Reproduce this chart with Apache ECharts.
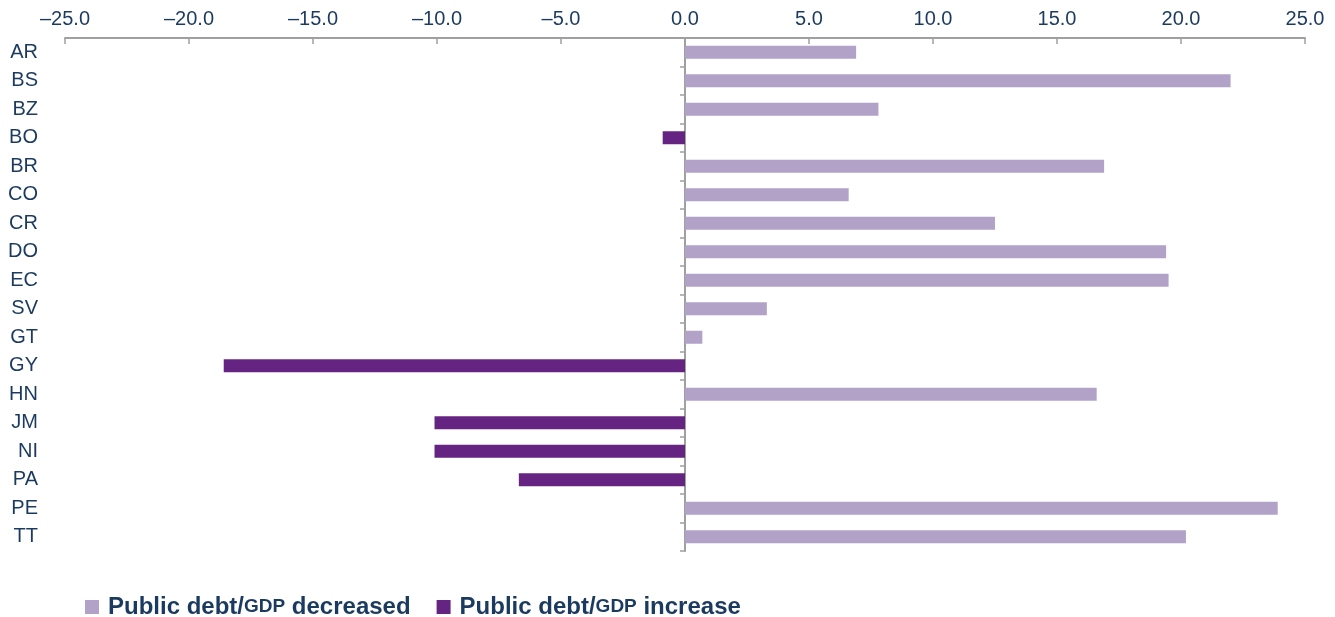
<!DOCTYPE html>
<html><head><meta charset="utf-8">
<script src="https://cdn.jsdelivr.net/npm/echarts@6/dist/echarts.min.js"></script>
<style>html,body{margin:0;padding:0;background:#fff}#c{width:1335px;height:617px}</style>
</head><body><div id="c"></div>
<script>
const categories = ['AR','BS','BZ','BO','BR','CO','CR','DO','EC','SV','GT','GY','HN','JM','NI','PA','PE','TT'];
const decreased = [6.9, 22.0, 7.8, null, 16.9, 6.6, 12.5, 19.4, 19.5, 3.3, 0.7, null, 16.6, null, null, null, 23.9, 20.2];
const increase  = [null, null, null, -0.9, null, null, null, null, null, null, null, -18.6, null, -10.1, -10.1, -6.7, null, null];
const seriesNames = ['Public debt/{s|GDP} decreased', 'Public debt/{s|GDP} increase'];
const xMin = -25, xMax = 25, xStep = 5;

const navy = '#1b3a5f';
const ff = 'Liberation Sans, Arial, sans-serif';
const chart = echarts.init(document.getElementById('c'));
chart.setOption({
  animation: false,
  grid: { left: 65, right: 30, top: 38, bottom: 66, containLabel: false },
  xAxis: {
    type: 'value', position: 'top', min: xMin, max: xMax, interval: xStep,
    axisLine: { show: true, onZero: false, lineStyle: { color: '#a0a0a0', width: 2 } },
    axisTick: { show: true, inside: true, length: 6, lineStyle: { color: '#a0a0a0', width: 1.5 } },
    splitLine: { show: false },
    axisLabel: { color: navy, fontSize: 20, fontFamily: ff, margin: 9,
      formatter: v => (v < 0 ? '\u2013' : '') + Math.abs(v).toFixed(1) }
  },
  yAxis: [{
    type: 'category', data: categories, inverse: true, position: 'left',
    axisLine: { show: false, onZero: false }, axisTick: { show: false },
    axisLabel: { color: navy, fontSize: 20, fontFamily: ff, margin: 27 }
  }, {
    type: 'category', data: categories, inverse: true, position: 'right',
    axisLine: { show: true, onZero: true, lineStyle: { color: '#a0a0a0', width: 2 } },
    axisTick: { show: true, inside: true, length: 5, lineStyle: { color: '#a0a0a0', width: 1.5 } },
    axisLabel: { show: false }
  }],
  legend: {
    left: 80, top: 590, itemWidth: 14, itemHeight: 14, itemGap: 26, icon: 'rect',
    textStyle: { color: navy, fontSize: 24, fontWeight: 'bold', fontFamily: ff, padding: [0, 0, 0, 4],
      rich: { s: { color: navy, fontSize: 19, fontWeight: 'bold', fontFamily: ff } } }
  },
  series: [
    { name: seriesNames[0], type: 'bar', stack: 'a', data: decreased, barWidth: 13, yAxisIndex: 0,
      itemStyle: { color: '#b3a2c8' } },
    { name: seriesNames[1], type: 'bar', stack: 'a', data: increase, barWidth: 13, yAxisIndex: 0,
      itemStyle: { color: '#662482' } }
  ]
});
</script></body></html>
